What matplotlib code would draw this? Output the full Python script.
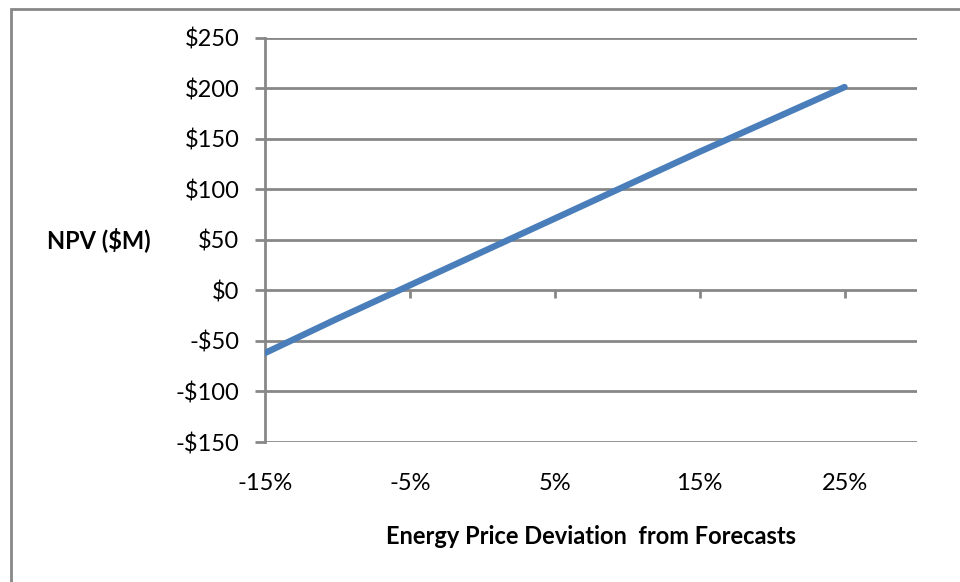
import matplotlib
matplotlib.use("Agg")
import matplotlib.pyplot as plt
from matplotlib.patches import Rectangle
from matplotlib.ticker import FuncFormatter

# Sensitivity of project NPV to energy price deviation
price_dev = [-15, -10, -5, 0, 5, 10, 15, 20, 25]          # % deviation from forecasts
npv = [-62, -28, 5, 38, 71, 104, 137, 169, 201]            # NPV in $M

x_ticks = [-15, -5, 5, 15, 25]
y_ticks = [-150, -100, -50, 0, 50, 100, 150, 200, 250]

GRAY = "#878787"
BLUE = "#4A7EBB"
FONT = "Lato"
FS = 17

W, H = 960, 582
fig = plt.figure(figsize=(W / 100, H / 100), dpi=100)

# outer chart frame (runs off the right and bottom edges)
frame_top = 1 - 9 / H
fig.add_artist(Rectangle((11 / W, -0.2), 1.5, frame_top + 0.2, transform=fig.transFigure,
                         fill=False, edgecolor=GRAY, linewidth=2.0))

left, right, top, bottom = 265, 917, 37.5, 442
ax = fig.add_axes([left / W, 1 - bottom / H, (right - left) / W, (bottom - top) / H])

ax.set_xlim(-15, 30)
ax.set_ylim(-150, 250)

# horizontal gridlines
ax.set_yticks(y_ticks)
ax.yaxis.grid(True, color=GRAY, linewidth=2.0)
ax.set_axisbelow(True)

for s in ("top", "right", "bottom"):
    ax.spines[s].set_visible(False)
ax.spines["left"].set_color(GRAY)
ax.spines["left"].set_linewidth(2.0)

ax.yaxis.set_major_formatter(FuncFormatter(lambda v, _: f"-${abs(int(v))}" if v < 0 else f"${int(v)}"))
ax.tick_params(axis="y", length=7.5, width=2.0, color=GRAY, pad=11,
               labelsize=FS, labelcolor="black")

# category labels sit below the plot area
ax.set_xticks(x_ticks)
ax.set_xticklabels([f"{v}%" for v in x_ticks])
ax.tick_params(axis="x", length=0, pad=22, labelsize=FS, labelcolor="black")

# tick marks along the zero line
sec = ax.secondary_xaxis(150 / 400)
sec.set_xticks([-5, 5, 15, 25])
sec.set_xticklabels([])
sec.spines["bottom"].set_visible(False)
sec.tick_params(axis="x", direction="out", length=6, width=2.0, color=GRAY)

for lab in ax.get_xticklabels() + ax.get_yticklabels():
    lab.set_fontfamily(FONT)

ax.plot(price_dev, npv, color=BLUE, linewidth=4.6, solid_capstyle="round",
        solid_joinstyle="round", zorder=3)

fig.text(99 / W, 1 - 240 / H, "NPV ($M)", fontsize=FS, fontweight="bold",
         fontfamily=FONT, ha="center", va="center")
fig.text(591 / W, 1 - 537 / H, "Energy Price Deviation  from Forecasts", fontsize=FS,
         fontweight="bold", fontfamily=FONT, ha="center", va="center")

fig.savefig("out.png", dpi=100)
